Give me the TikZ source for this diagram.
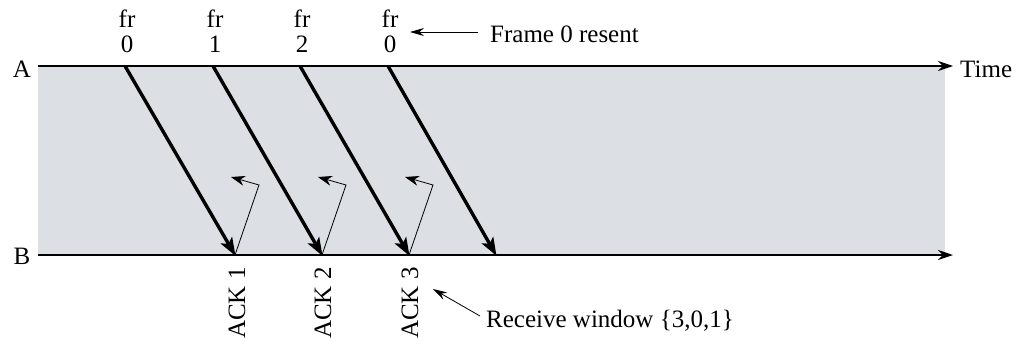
\documentclass[tikz,border=0pt]{standalone}
\usepackage{fontspec}
\setmainfont{Liberation Serif}
\usetikzlibrary{arrows.meta}
\definecolor{bandgray}{RGB}{220,224,228}
\tikzset{
  lbl/.style={inner sep=0pt, font=\fontsize{25}{27}\selectfont},
  axisline/.style={line width=1.8pt, -{Stealth[length=15pt,width=10pt]}},
  framearrow/.style={line width=3.4pt, -{Stealth[length=18pt,width=13pt,inset=4pt]}},
  ackarrow/.style={line width=0.8pt, -{Stealth[length=14pt,width=10pt]}},
  notearrow/.style={line width=0.8pt, -{Stealth[length=14pt,width=8pt]}}
}
\begin{document}
\begin{tikzpicture}[x=1pt,y=-1pt]
\useasboundingbox (0,0) rectangle (1016,343);
\fill[bandgray] (38,66) rectangle (945,255);
% axes
\coordinate (a0) at (38,66);
\coordinate (a1) at (953,66);
\coordinate (b0) at (38,255);
\coordinate (b1) at (953,255);
\draw[axisline] (a0) -- (a1);
\draw[axisline] (b0) -- (b1);
\node[lbl, anchor=center] (la) at (22,69) {A};
\node[lbl, anchor=center] (lb) at (22,256) {B};
\node[lbl, anchor=west] (time) at (960,69) {Time};
% frames
\foreach \i/\sx/\ex/\t in {0/125/235/0, 1/213/322/1, 2/300/409/2, 3/388/496/0}{
  \coordinate (s\i) at (\sx,66);
  \coordinate (e\i) at (\ex,255);
  \draw[framearrow, shorten >=-1pt] (s\i) -- (e\i);
  \node[lbl] (fr\i) at (\sx+2,19) {fr};
  \node[lbl] (n\i) at (\sx+2,44) {\t};
}
% acks
\foreach \i/\x in {0/235, 1/322, 2/409}{
  \coordinate (k\i) at (\x+24,185);
  \coordinate (t\i) at (\x-4,177);
  \draw[ackarrow] (e\i) -- (k\i) -- (t\i);
}
\node[lbl, rotate=90, anchor=east] (ack1) at (237,267) {ACK 1};
\node[lbl, rotate=90, anchor=east] (ack2) at (323,267) {ACK 2};
\node[lbl, rotate=90, anchor=east] (ack3) at (410,267) {ACK 3};
% annotations
\node[lbl, anchor=west] (resent) at (490,34) {Frame 0 resent};
\coordinate (rs) at (478,32);
\coordinate (rt) at (410,32);
\draw[notearrow] (rs) -- (rt);
\node[lbl, anchor=west] (recv) at (486,321) {Receive window \{3,0,1\}};
\coordinate (wt) at (433,289);
\coordinate (ws) at (480,316);
\draw[notearrow] (ws) -- (wt);
\end{tikzpicture}
\end{document}
